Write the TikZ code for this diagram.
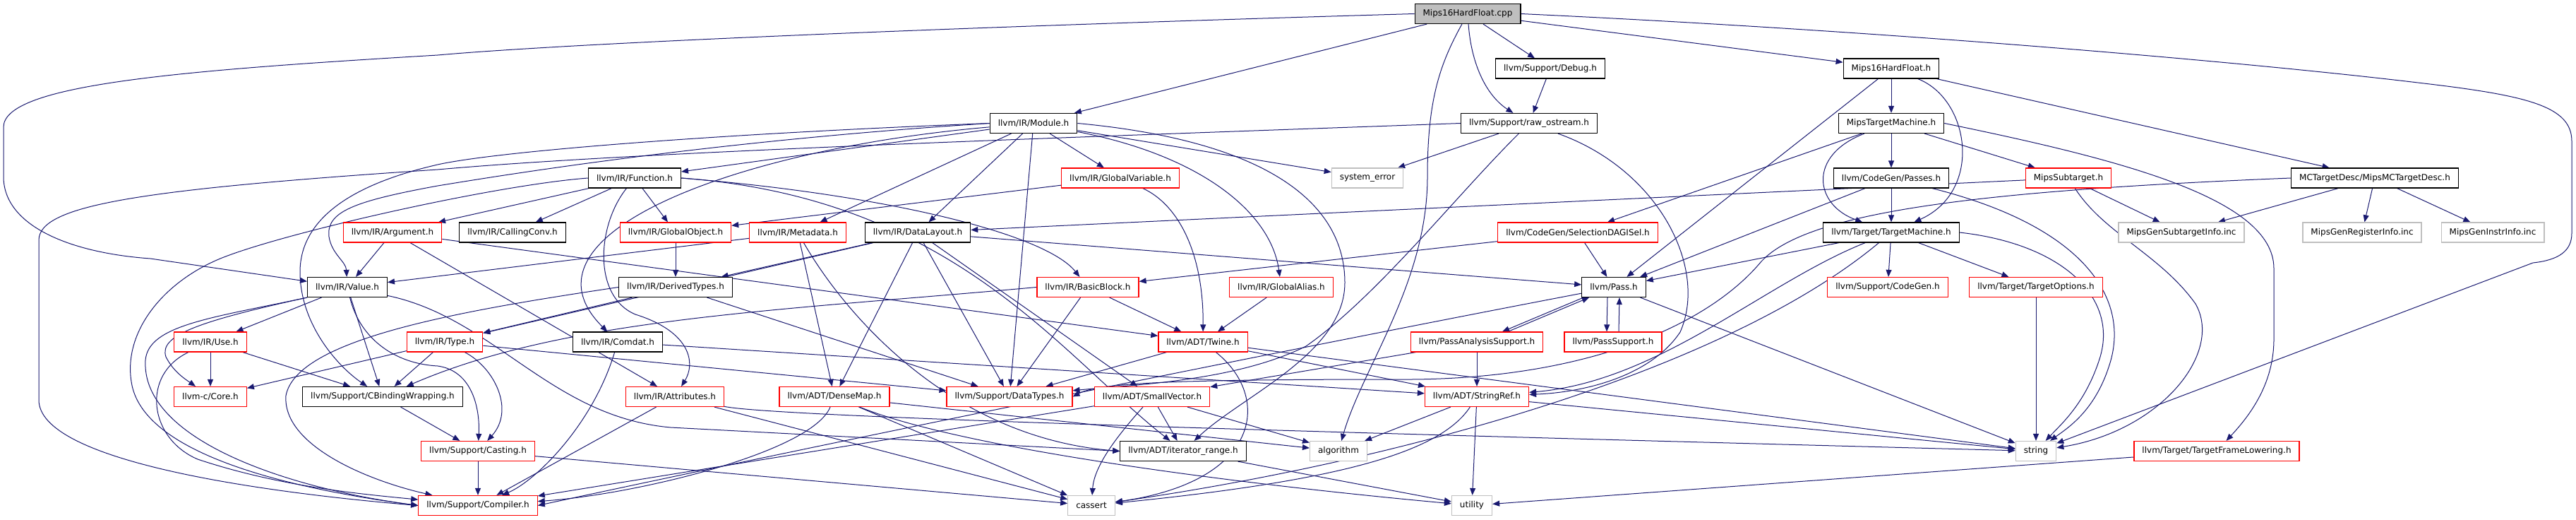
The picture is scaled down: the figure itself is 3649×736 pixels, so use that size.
\documentclass[tikz,border=0pt]{standalone}
\usepackage{fontspec}
\setmainfont{DejaVu Sans}
\usetikzlibrary{arrows.meta}
\definecolor{edgec}{HTML}{191970}
\definecolor{redc}{HTML}{FF0000}
\definecolor{grayc}{HTML}{BFBFBF}
\pgfdeclarelayer{bg}
\pgfsetlayers{bg,main}
\begin{document}
\begin{tikzpicture}[x=1pt,y=-1pt,
  box/.style={draw=black, line width=1.2pt, fill=white, minimum height=28pt, inner xsep=11.5pt, inner ysep=0pt, font=\fontsize{12}{14}\selectfont, text=black},
  trunc/.style={box, draw=redc},
  ext/.style={box, draw=grayc},
  root/.style={box, fill=grayc},
  e/.style={draw=edgec, line width=1pt, -{Triangle[length=10pt,width=8pt]}}]
\useasboundingbox (0,0) rectangle (3649,736);
% row 0
\node[root] (cpp) at (2079,19.5) {Mips16HardFloat.cpp};
% row 1
\node[box] (dbg) at (2196,97) {llvm/Support/Debug.h};
\node[box] (mhf) at (2679,97) {Mips16HardFloat.h};
% row 2
\node[box] (mod) at (1464,174.5) {llvm/IR/Module.h};
\node[box] (raw) at (2166,174.5) {llvm/Support/raw\_ostream.h};
\node[box] (mtm) at (2679,174.5) {MipsTargetMachine.h};
% row 3
\node[box] (fun) at (899,252) {llvm/IR/Function.h};
\node[trunc] (gvar) at (1587,252) {llvm/IR/GlobalVariable.h};
\node[ext] (syserr) at (1937,252) {system\_error};
\node[box] (cgp) at (2679,252) {llvm/CodeGen/Passes.h};
\node[trunc] (msub) at (2930,252) {MipsSubtarget.h};
\node[box] (mcd) at (3364,252) {MCTargetDesc/MipsMCTargetDesc.h};
% row 4
\node[trunc] (arg) at (556,329) {llvm/IR/Argument.h};
\node[box] (cc) at (726,329) {llvm/IR/CallingConv.h};
\node[trunc] (gobj) at (957,329) {llvm/IR/GlobalObject.h};
\node[trunc] (meta) at (1130,329) {llvm/IR/Metadata.h};
\node[box] (dl) at (1300,329) {llvm/IR/DataLayout.h};
\node[trunc] (sdag) at (2235,329) {llvm/CodeGen/SelectionDAGISel.h};
\node[box] (tm) at (2679,329) {llvm/Target/TargetMachine.h};
\node[ext] (gsub) at (3090,329) {MipsGenSubtargetInfo.inc};
\node[ext] (greg) at (3346,329) {MipsGenRegisterInfo.inc};
\node[ext] (ginst) at (3531,329) {MipsGenInstrInfo.inc};
% row 5
\node[box] (val) at (492,406.5) {llvm/IR/Value.h};
\node[box] (dt) at (957,406.5) {llvm/IR/DerivedTypes.h};
\node[trunc] (bb) at (1541,406.5) {llvm/IR/BasicBlock.h};
\node[trunc] (galias) at (1815,406.5) {llvm/IR/GlobalAlias.h};
\node[box] (pass) at (2286,406.5) {llvm/Pass.h};
\node[trunc] (scg) at (2674,406.5) {llvm/Support/CodeGen.h};
\node[trunc] (topt) at (2884,406.5) {llvm/Target/TargetOptions.h};
% row 6
\node[trunc] (use) at (298,484) {llvm/IR/Use.h};
\node[trunc] (type) at (630,484) {llvm/IR/Type.h};
\node[box] (comdat) at (875,484) {llvm/IR/Comdat.h};
\node[trunc] (twine) at (1704,484) {llvm/ADT/Twine.h};
\node[trunc] (pas) at (2092,484) {llvm/PassAnalysisSupport.h};
\node[trunc] (ps) at (2285,484) {llvm/PassSupport.h};
% row 7
\node[trunc] (core) at (298,561.5) {llvm-c/Core.h};
\node[box] (cbw) at (542,561.5) {llvm/Support/CBindingWrapping.h};
\node[trunc] (attr) at (956,561.5) {llvm/IR/Attributes.h};
\node[trunc] (dmap) at (1182,561.5) {llvm/ADT/DenseMap.h};
\node[trunc] (dtypes) at (1430,561.5) {llvm/Support/DataTypes.h};
\node[trunc] (svec) at (1632,561.5) {llvm/ADT/SmallVector.h};
\node[trunc] (sref) at (2092,561.5) {llvm/ADT/StringRef.h};
% row 8
\node[trunc] (cast) at (677,638.5) {llvm/Support/Casting.h};
\node[box] (irange) at (1676,638.5) {llvm/ADT/iterator\_range.h};
\node[ext] (algo) at (1896,638.5) {algorithm};
\node[ext] (str) at (2884,638.5) {string};
\node[trunc] (tfl) at (3140,638.5) {llvm/Target/TargetFrameLowering.h};
% row 9
\node[trunc] (comp) at (677,715.5) {llvm/Support/Compiler.h};
\node[ext] (cassert) at (1546,715.5) {cassert};
\node[ext] (util) at (2085,715.5) {utility};

\begin{pgfonlayer}{bg}
% cpp
\draw[e] (cpp) -- (mod);
\draw[e] (cpp) -- (dbg);
\draw[e] (cpp) -- (mhf);
\draw[e] (cpp) .. controls (2084,90) and (2105,135) .. (raw);
\draw[e] (cpp) .. controls (2040,90) and (2022,140) .. (2022,250) .. controls (2022,400) and (1930,520) .. (algo);
\draw[e] (cpp.west) .. controls (1300,40) and (800,62) .. (620,78) .. controls (250,100) and (5,120) .. (5,180) -- (5,250) .. controls (5,320) and (100,358) .. (213,366) -- (val);
\draw[e] (cpp.east) .. controls (2700,45) and (3200,90) .. (3425,117) .. controls (3580,135) and (3643,150) .. (3643,200) -- (3643,330) .. controls (3643,355) and (3625,368) .. (3588,372) -- (str);
% dbg, mhf
\draw[e] (dbg) -- (raw);
\draw[e] (mhf) -- (mtm);
\draw[e] (mhf) -- (pass);
\draw[e] (mhf) .. controls (2790,140) and (2810,270) .. (tm);
\draw[e] (mhf) -- (mcd);
% mod
\draw[e] (mod) -- (fun);
\draw[e] (mod) -- (gvar);
\draw[e] (mod) -- (dl);
\draw[e] (mod) -- (meta);
\draw[e] (mod) -- (syserr);
\draw[e] (mod) -- (dtypes);
\draw[e] (mod) .. controls (1050,210) and (720,330) .. (comdat);
\draw[e] (mod) .. controls (1700,220) and (1800,300) .. (galias);
\draw[e] (mod.east) .. controls (1800,200) and (1905,290) .. (1905,400) .. controls (1905,500) and (1760,560) .. (irange);
\draw[e] (mod.west) .. controls (1000,190) and (700,215) .. (620,233) .. controls (480,265) and (425,320) .. (425,385) .. controls (425,460) and (480,520) .. (cbw);
\draw[e] (mod.west) .. controls (1000,200) and (700,250) .. (620,263) .. controls (500,285) and (462,300) .. (466,335) .. controls (470,360) and (490,370) .. (val);
% raw
\draw[e] (raw) -- (syserr);
\draw[e] (raw.west) .. controls (1500,195) and (900,215) .. (620,240) .. controls (200,268) and (55,290) .. (55,340) -- (55,566) .. controls (55,650) and (350,695) .. (comp.west);
\draw[e] (raw) .. controls (2060,280) and (1950,420) .. (1850,490) .. controls (1750,540) and (1600,545) .. (dtypes);
\draw[e] (raw) .. controls (2350,240) and (2420,380) .. (2380,470) .. controls (2340,530) and (2250,555) .. (sref);
% mtm
\draw[e] (mtm) -- (msub);
\draw[e] (mtm) -- (cgp);
\draw[e] (mtm) -- (sdag);
\draw[e] (mtm) .. controls (2560,220) and (2570,290) .. (tm);
\draw[e] (mtm.east) .. controls (3000,225) and (3221,280) .. (3221,380) -- (3221,480) .. controls (3221,545) and (3185,590) .. (tfl);
% cgp
\draw[e] (cgp) -- (tm);
\draw[e] (cgp) -- (pass);
\draw[e] (cgp) .. controls (2950,320) and (3015,420) .. (2990,510) .. controls (2970,580) and (2930,605) .. (str);
% msub
\draw[e] (msub) -- (dl);
\draw[e] (msub) -- (gsub);
\draw[e] (msub) .. controls (2980,330) and (3060,360) .. (3110,430) .. controls (3150,500) and (3060,610) .. (str);
% mcd
\draw[e] (mcd) -- (gsub);
\draw[e] (mcd) -- (greg);
\draw[e] (mcd) -- (ginst);
\draw[e] (mcd.west) .. controls (2800,270) and (2560,300) .. (2495,370) .. controls (2420,460) and (2250,535) .. (2000,537) .. controls (1700,537) and (1560,540) .. (dtypes.east);
% sdag
\draw[e] (sdag) -- (pass);
\draw[e] (sdag) -- (bb);
% tm
\draw[e] (tm) -- (pass);
\draw[e] (tm) -- (scg);
\draw[e] (tm) -- (topt);
\draw[e] (tm) .. controls (2500,400) and (2350,540) .. (sref);
\draw[e] (tm) .. controls (2450,520) and (2000,650) .. (cassert);
\draw[e] (tm.east) .. controls (2920,345) and (3000,420) .. (2975,505) .. controls (2955,570) and (2920,600) .. (str);
% fun
\draw[e] (fun) -- (arg);
\draw[e] (fun) -- (cc);
\draw[e] (fun) -- (gobj);
\draw[e] (fun) .. controls (845,320) and (840,420) .. (900,445) .. controls (980,470) and (985,515) .. (attr);
\draw[e] (fun.east) .. controls (1250,275) and (1480,330) .. (bb);
\draw[e] (fun.east) .. controls (1350,280) and (1500,500) .. (irange);
\draw[e] (fun.west) .. controls (700,262) and (400,330) .. (312,366) .. controls (230,400) and (175,470) .. (186,540) .. controls (200,640) and (400,690) .. (comp.west);
% gvar, gobj, meta
\draw[e] (gvar) -- (gobj);
\draw[e] (gvar) .. controls (1670,290) and (1705,360) .. (twine);
\draw[e] (gobj) -- (dt);
\draw[e] (meta) -- (val);
\draw[e] (meta) -- (dmap);
\draw[e] (meta) .. controls (1200,450) and (1350,620) .. (irange.west);
% dl
\draw[e] (dl) -- (dt);
\draw[e] (dl) -- (type);
\draw[e] (dl) -- (pass);
\draw[e] (dl) -- (svec);
\draw[e] (dl) -- (dtypes);
\draw[e] (dl) -- (dmap);
% arg
\draw[e] (arg) -- (val);
\draw[e] (arg) -- (attr);
\draw[e] (arg) -- (twine);
% val
\draw[e] (val) -- (use);
\draw[e] (val) -- (cbw);
\draw[e] (val.south west) .. controls (300,450) and (210,460) .. (206,510) .. controls (200,620) and (400,690) .. (comp.west);
\draw[e] (val.south west) .. controls (280,455) and (225,475) .. (235,505) .. controls (245,525) and (260,535) .. (core);
\draw[e] (val) .. controls (510,480) and (560,515) .. (620,518) .. controls (670,525) and (680,580) .. (cast);
\draw[e] (val) .. controls (700,450) and (780,590) .. (950,605) -- (irange.west);
% dt
\draw[e] (dt) -- (type);
\draw[e] (dt) -- (dtypes);
\draw[e] (dt.west) .. controls (650,440) and (420,480) .. (405,560) .. controls (400,630) and (520,680) .. (comp);
% bb, galias
\draw[e] (bb) -- (twine);
\draw[e] (bb) -- (dtypes);
\draw[e] (bb.west) .. controls (1100,440) and (800,450) .. (cbw);
\draw[e] (galias) -- (twine);
% pass family
\draw[e] (pass) .. controls (1900,480) and (1300,600) .. (comp.east);
\draw[e] (pass) -- (str);
\draw[e] ([xshift=-43pt]pass.south) -- ([xshift=36pt]pas.north);
\draw[e] ([xshift=44pt]pas.north) -- ([xshift=-35pt]pass.south);
\draw[e] ([xshift=-9pt]pass.south) -- ([xshift=-9pt]ps.north);
\draw[e] ([xshift=8pt]ps.north) -- ([xshift=8pt]pass.south);
\draw[e] (topt) -- (str);
\draw[e] (pas) -- (sref);
\draw[e] (pas) -- (svec);
% use, type, comdat
\draw[e] (use) -- (core);
\draw[e] (use) -- (cbw);
\draw[e] (use) .. controls (200,530) and (210,620) .. (280,650) .. controls (400,690) and (520,700) .. (comp);
\draw[e] (type) -- (core);
\draw[e] (type) -- (cbw);
\draw[e] (type) .. controls (700,520) and (730,580) .. (cast);
\draw[e] (type) -- (dtypes);
\draw[e] (comdat) .. controls (840,600) and (760,680) .. (comp);
\draw[e] (comdat) -- (sref);
% twine
\draw[e] (twine) -- (sref);
\draw[e] (twine) -- (dtypes);
\draw[e] (twine) .. controls (1800,560) and (1790,680) .. (cassert);
\draw[e] (twine) -- (str);
% row 7 and below
\draw[e] (cbw) -- (cast);
\draw[e] (attr) -- (comp);
\draw[e] (attr) -- (cassert);
\draw[e] (attr) .. controls (1100,590) and (1800,610) .. (str);
\draw[e] (dmap) .. controls (1150,640) and (900,700) .. (comp);
\draw[e] (dmap) -- (cassert);
\draw[e] (dmap) -- (algo);
\draw[e] (dmap) .. controls (1350,630) and (1700,680) .. (util);
\draw[e] (svec) -- (comp);
\draw[e] (svec) .. controls (1580,620) and (1550,660) .. (cassert);
\draw[e] (svec) -- (irange);
\draw[e] (svec) -- (algo);
\draw[e] (sref) -- (algo);
\draw[e] (sref) .. controls (2040,640) and (1900,680) .. (cassert);
\draw[e] (sref) -- (util);
\draw[e] (sref) -- (str);
\draw[e] (cast) -- (comp);
\draw[e] (cast) -- (cassert);
\draw[e] (irange) -- (util);
\draw[e] (tfl) -- (util);
\end{pgfonlayer}
\end{tikzpicture}
\end{document}
